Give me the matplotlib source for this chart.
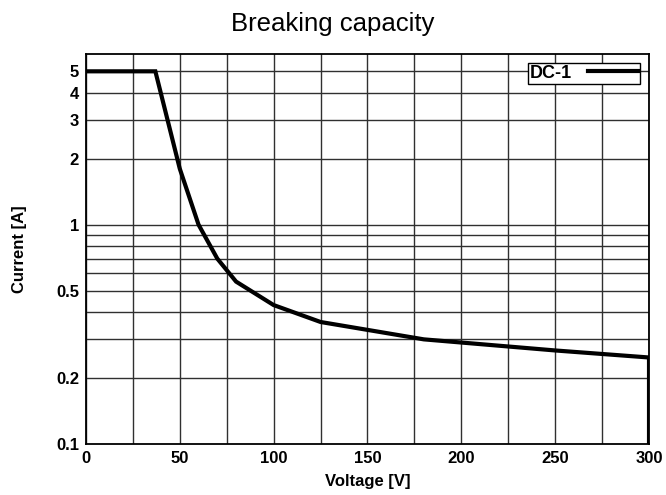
import numpy as np
import matplotlib
matplotlib.use('Agg')
import matplotlib.pyplot as plt

# -------------------- Data --------------------
voltage = [0, 37, 50, 60, 70, 80, 100, 125, 180, 250, 300, 300]
current = [5, 5, 1.8, 1.0, 0.7, 0.55, 0.43, 0.36, 0.30, 0.267, 0.248, 0.1]

x_ticks = [0, 50, 100, 150, 200, 250, 300]
x_grid = [0, 25, 50, 75, 100, 125, 150, 175, 200, 225, 250, 275, 300]
y_ticks = [0.1, 0.2, 0.5, 1, 2, 3, 4, 5]
y_tick_labels = ['0.1', '0.2', '0.5', '1', '2', '3', '4', '5']
y_grid = [0.2, 0.3, 0.4, 0.5, 0.6, 0.7, 0.8, 0.9, 1, 2, 3, 4, 5]

plt.rcParams['font.family'] = ['Liberation Sans', 'DejaVu Sans']

fig = plt.figure(figsize=(6.66, 4.95), dpi=100)
ax = fig.add_axes([0.129, 0.103, 0.8455, 0.788])

# grid lines drawn by hand so the minor decades match the datasheet
for gx in x_grid:
    ax.axvline(gx, color='#303030', lw=1.0, zorder=1)
for gy in y_grid:
    ax.axhline(gy, color='#303030', lw=1.0, zorder=1)

ax.plot(voltage, current, color='black', lw=3, label='DC-1', zorder=3,
        solid_joinstyle='miter')

ax.set_yscale('log')
ax.set_xlim(0, 300)
ax.set_ylim(0.1, 6)

ax.set_xticks(x_ticks)
ax.set_xticklabels([str(v) for v in x_ticks], fontweight='bold', fontsize=12)
ax.set_yticks(y_ticks)
ax.set_yticklabels(y_tick_labels, fontweight='bold', fontsize=12)
ax.yaxis.set_minor_locator(matplotlib.ticker.NullLocator())
ax.tick_params(length=0, pad=5)

for s in ax.spines.values():
    s.set_linewidth(1.3)
    s.set_color('black')

ax.set_xlabel('Voltage [V]', fontweight='bold', fontsize=12, labelpad=6)
ax.set_ylabel('Current [A]', fontweight='bold', fontsize=12)
ax.yaxis.set_label_coords(-0.105, 0.5)
fig.suptitle('Breaking capacity', fontsize=18.5, y=0.976)

leg = ax.legend(loc='upper right', frameon=True, fancybox=False,
                edgecolor='black', framealpha=1, borderpad=0.1,
                handlelength=2.8, handletextpad=0.85, borderaxespad=0.5,
                markerfirst=False, prop={'weight': 'bold', 'size': 13})
leg.get_frame().set_linewidth(1.0)

fig.savefig('out.png', dpi=100)
